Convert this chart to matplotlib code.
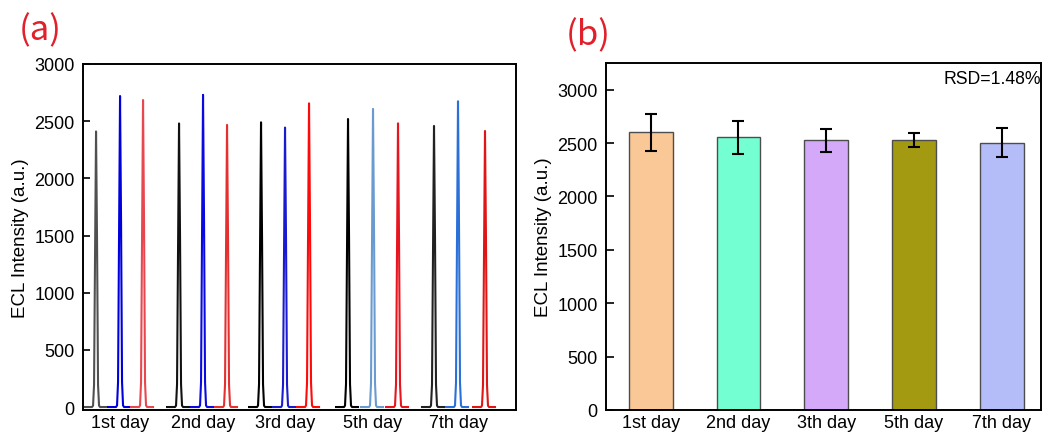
import matplotlib
matplotlib.use('Agg')
import matplotlib.pyplot as plt
import numpy as np

plt.rcParams['font.family'] = ['Liberation Sans', 'DejaVu Sans']

# ---- (a) ECL transients: 5 days x 3 scans ----
days_a = ['1st day', '2nd day', '3rd day', '5th day', '7th day']
# peak time of each scan (s)
peak_t = [[13, 37, 60],
          [96, 120, 144],
          [178, 202, 226],
          [265, 290, 315],
          [351, 375, 402]]
# peak intensity of each scan (a.u.)
peak_h = [[2410, 2720, 2685],
          [2480, 2730, 2467],
          [2490, 2444, 2656],
          [2519, 2607, 2481],
          [2458, 2674, 2414]]
shape_t = [-12, -11, -10, -9, -8, -7, -6, -5, -4, -3, -2, -1, 0, 1, 2, 3, 4, 5, 6, 7, 8, 9, 10]
shape_v = [0, 0, 0, 0, 0, 0, 0, 0, 0, 0.005, 0.08, 0.55, 1.0, 0.6, 0.08, 0.005, 0, 0, 0, 0, 0, 0, 0]
scan_colors = [['#505050', '#0000dd', '#e8474f'],
               ['#111111', '#0a0ae0', '#e53030'],
               ['#000000', '#1a1ad0', '#ff0a0a'],
               ['#000000', '#6a9bd0', '#e8141e'],
               ['#222222', '#2a70d8', '#e01515']]

# ---- (b) mean intensity with error ----
days_b = ['1st day', '2nd day', '3th day', '5th day', '7th day']
mean_b = [2600, 2553, 2525, 2527, 2505]
err_b = [175, 152, 108, 67, 140]
bar_colors = ['#f9c896', '#73ffd2', '#d5a9f9', '#a39a12', '#b5bdf9']

fig = plt.figure(figsize=(10.42, 4.35), dpi=100)
fig.patch.set_facecolor('white')

# ---------------- panel (a) ----------------
ax1 = fig.add_axes([0.0797, 0.0552, 0.4155, 0.7954])
for g in range(len(peak_t)):
    for s in range(3):
        x = np.array(shape_t) + peak_t[g][s]
        y = np.array(shape_v) * peak_h[g][s]
        ax1.plot(x, y, color=scan_colors[g][s], lw=1.5)
ax1.set_xlim(0, 433)
ax1.set_ylim(-26, 3000)
ax1.set_yticks(np.arange(0, 3001, 500))
ax1.set_xticks([row[1] for row in peak_t])
ax1.set_xticklabels(days_a)
ax1.tick_params(axis='y', direction='in', length=5, width=1.2, labelsize=13, pad=6)
ax1.tick_params(axis='x', length=0, labelsize=13, pad=3)
ax1.set_ylabel('ECL Intensity (a.u.)', fontsize=13.5, labelpad=4)
for sp in ax1.spines.values():
    sp.set_linewidth(1.4)

# ---------------- panel (b) ----------------
ax2 = fig.add_axes([0.5816, 0.0552, 0.4175, 0.7977])
xb = np.arange(1, len(days_b) + 1)
ax2.bar(xb, mean_b, width=0.5, color=bar_colors, edgecolor='#4d4d4d', lw=1.0, zorder=2)
ax2.errorbar(xb, mean_b, yerr=err_b, fmt='none', ecolor='black',
             elinewidth=1.5, capsize=4, capthick=1.5, zorder=3)
ax2.set_xlim(0.49, 5.45)
ax2.set_ylim(0, 3250)
ax2.set_yticks(np.arange(0, 3001, 500))
ax2.set_xticks(xb)
ax2.set_xticklabels(days_b)
ax2.tick_params(axis='both', direction='in', length=6, width=1.2, labelsize=13)
ax2.tick_params(axis='y', pad=6)
ax2.tick_params(axis='x', pad=3)
ax2.set_ylabel('ECL Intensity (a.u.)', fontsize=13.5, labelpad=4)
for sp in ax2.spines.values():
    sp.set_linewidth(1.4)
ax2.text(0.999, 0.955, 'RSD=1.48%', transform=ax2.transAxes, ha='right', va='center',
         fontsize=12.7)

# panel letters
fig.text(0.039, 0.930, '(a)', color='#e0202a', fontsize=25, ha='center', va='center',
         family=['Noto Sans CJK SC', 'DejaVu Sans'])
fig.text(0.565, 0.918, '(b)', color='#e0202a', fontsize=25, ha='center', va='center',
         family=['Noto Sans CJK SC', 'DejaVu Sans'])

fig.savefig('out.png', dpi=100, facecolor='white')
